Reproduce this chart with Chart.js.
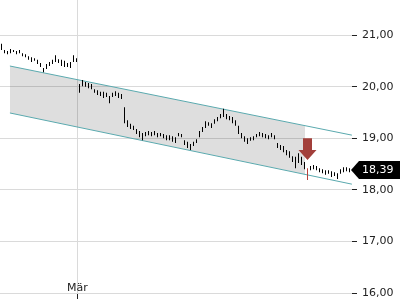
<!DOCTYPE html>
<html lang="de">
<head>
<meta charset="UTF-8" />
<title>Kursverlauf</title>
<style>
  html, body { margin: 0; padding: 0; background: #fff; }
  canvas { display: block; }
</style>
</head>
<body>
<canvas id="chart" width="400" height="300"></canvas>
<script src="https://cdn.jsdelivr.net/npm/chart.js"></script>
<script>
// daily high / low, one entry per trading day
const highs = [
  20.83, 20.71, 20.69, 20.73, 20.71, 20.69, 20.71, 20.65, 20.63, 20.59,
  20.57, 20.55, 20.52, 20.46, 20.36, 20.44, 20.48, 20.52, 20.61, 20.53,
  20.52, 20.50, 20.46, 20.48, 20.61, 20.55, 20.05, 20.13, 20.09, 20.07,
  20.05, 19.95, 19.93, 19.90, 19.90, 19.88, 19.82, 19.88, 19.91, 19.88,
  19.86, 19.60, 19.35, 19.28, 19.24, 19.18, 19.14, 19.10, 19.12, 19.14,
  19.12, 19.14, 19.10, 19.10, 19.08, 19.06, 19.06, 19.04, 19.02, 19.10,
  19.08, 18.96, 18.93, 18.89, 18.93, 18.98, 19.14, 19.22, 19.33, 19.31,
  19.29, 19.37, 19.41, 19.47, 19.57, 19.47, 19.43, 19.41, 19.35, 19.24,
  19.10, 19.04, 19.00, 19.02, 19.04, 19.08, 19.12, 19.10, 19.08, 19.06,
  19.10, 19.06, 18.91, 18.87, 18.85, 18.77, 18.75, 18.65, 18.64, 18.71,
  18.64, 18.54, 18.42, 18.46, 18.48, 18.46, 18.42, 18.40, 18.38, 18.38,
  18.36, 18.34, 18.32, 18.40, 18.44, 18.44, 18.42
];
const lows = [
  20.71, 20.65, 20.63, 20.65, 20.67, 20.63, 20.65, 20.59, 20.57, 20.52,
  20.48, 20.50, 20.44, 20.38, 20.28, 20.34, 20.40, 20.44, 20.48, 20.46,
  20.40, 20.38, 20.38, 20.36, 20.48, 20.48, 19.88, 20.01, 20.00, 19.97,
  19.95, 19.88, 19.84, 19.82, 19.78, 19.80, 19.68, 19.80, 19.82, 19.78,
  19.76, 19.29, 19.22, 19.18, 19.16, 19.08, 19.02, 18.96, 19.04, 19.06,
  19.04, 19.06, 19.02, 19.04, 19.00, 18.96, 18.96, 18.93, 18.91, 19.04,
  19.02, 18.87, 18.81, 18.77, 18.85, 18.91, 19.02, 19.12, 19.20, 19.24,
  19.20, 19.28, 19.33, 19.39, 19.41, 19.37, 19.35, 19.29, 19.24, 19.08,
  19.00, 18.93, 18.89, 18.95, 18.96, 19.02, 19.04, 19.02, 19.00, 18.98,
  19.02, 18.98, 18.81, 18.77, 18.73, 18.67, 18.62, 18.54, 18.42, 18.52,
  18.48, 18.40, 18.19, 18.38, 18.40, 18.38, 18.34, 18.32, 18.29, 18.31,
  18.25, 18.27, 18.21, 18.31, 18.34, 18.36, 18.34
];
const lastClose = 18.39;

const monthLabel = 'Mär';
const monthIndex = 25;

// trend channel (line ends) and shaded part of it
const channelX = [2.8, 116.8];
const channelUpper = [20.40, 19.06];
const channelLower = [19.49, 18.11];
const shadeX = [2.8, 101.2];
const shadeUpper = [20.40, 19.24];
const shadeLower = [19.49, 18.30];

// sell signal arrow
const signalIndex = 102;
const signalTop = 19.00;
const signalHead = 18.77;
const signalTip = 18.58;

const yTicks = [16, 17, 18, 19, 20, 21];
const yMin = 16, yMax = 21.68;
const xMin = -0.5, xMax = 116.8333;

const FONT = '"DejaVu Sans", sans-serif';
const gridColor = '#dadada';
const channelColor = '#5aa9ae';
const signalColor = '#a23f3a';

const fmt = v => v.toFixed(2).replace('.', ',');

const bars = highs.map((h, i) => ({ x: i, y: [lows[i], h] }));
const barColors = highs.map((h, i) => i === signalIndex ? '#b8403a' : '#000');

const pairs = (xs, ys) => xs.map((x, i) => ({ x: x, y: ys[i] }));

const overlay = {
  id: 'overlay',
  beforeDatasetsDraw(chart) {
    // month separator: grid line, tick and label
    const ctx = chart.ctx;
    const area = chart.chartArea;
    const x = Math.round(chart.scales.x.getPixelForValue(monthIndex)) + 0.5;
    ctx.save();
    ctx.lineWidth = 1;
    ctx.strokeStyle = gridColor;
    ctx.beginPath();
    ctx.moveTo(x, area.top);
    ctx.lineTo(x, area.bottom);
    ctx.stroke();
    ctx.strokeStyle = '#222';
    ctx.beginPath();
    ctx.moveTo(x, area.bottom + 1);
    ctx.lineTo(x, area.bottom + 6);
    ctx.stroke();
    ctx.fillStyle = '#222';
    ctx.font = '11px ' + FONT;
    ctx.textAlign = 'center';
    ctx.textBaseline = 'alphabetic';
    ctx.fillText(monthLabel, x, area.bottom - 2);
    ctx.restore();
  },
  afterDatasetsDraw(chart) {
    const ctx = chart.ctx;
    const xs = chart.scales.x, ys = chart.scales.y;
    const cx = xs.getPixelForValue(signalIndex);
    const yTop = ys.getPixelForValue(signalTop);
    const yHead = ys.getPixelForValue(signalHead);
    const yTip = ys.getPixelForValue(signalTip);
    ctx.save();
    ctx.fillStyle = signalColor;
    ctx.beginPath();
    ctx.moveTo(cx - 4.5, yTop);
    ctx.lineTo(cx + 4.5, yTop);
    ctx.lineTo(cx + 4.5, yHead);
    ctx.lineTo(cx + 9, yHead);
    ctx.lineTo(cx, yTip);
    ctx.lineTo(cx - 9, yHead);
    ctx.lineTo(cx - 4.5, yHead);
    ctx.closePath();
    ctx.fill();
    ctx.restore();
  },
  afterDraw(chart) {
    // last price marker on the axis
    const ctx = chart.ctx;
    const ys = chart.scales.y;
    const right = chart.chartArea.right;
    const y = Math.round(ys.getPixelForValue(lastClose));
    ctx.save();
    ctx.fillStyle = '#000';
    ctx.beginPath();
    ctx.moveTo(right - 1, y);
    ctx.lineTo(right + 7, y - 9);
    ctx.lineTo(chart.width, y - 9);
    ctx.lineTo(chart.width, y + 9);
    ctx.lineTo(right + 7, y + 9);
    ctx.closePath();
    ctx.fill();
    ctx.fillStyle = '#fff';
    ctx.font = '11px ' + FONT;
    ctx.textBaseline = 'middle';
    ctx.textAlign = 'left';
    ctx.fillText(fmt(lastClose), right + 10, y + 0.5);
    ctx.restore();
  }
};

new Chart(document.getElementById('chart'), {
  type: 'bar',
  data: {
    datasets: [
      {
        type: 'bar',
        data: bars,
        backgroundColor: barColors,
        barThickness: 1,
        inflateAmount: 0,
        borderWidth: 0,
        grouped: false,
        order: 0
      },
      {
        type: 'line',
        data: pairs(channelX, channelUpper),
        borderColor: channelColor,
        borderWidth: 1,
        pointRadius: 0,
        fill: false,
        order: 1
      },
      {
        type: 'line',
        data: pairs(channelX, channelLower),
        borderColor: channelColor,
        borderWidth: 1,
        pointRadius: 0,
        fill: false,
        order: 1
      },
      {
        type: 'line',
        data: pairs(shadeX, shadeUpper),
        borderWidth: 0,
        pointRadius: 0,
        backgroundColor: 'rgba(0,0,0,0.13)',
        fill: '+1',
        order: 2
      },
      {
        type: 'line',
        data: pairs(shadeX, shadeLower),
        borderWidth: 0,
        pointRadius: 0,
        fill: false,
        order: 2
      }
    ]
  },
  options: {
    responsive: false,
    animation: false,
    layout: { padding: 0 },
    plugins: { legend: { display: false }, tooltip: { enabled: false } },
    scales: {
      x: {
        type: 'linear',
        min: xMin,
        max: xMax,
        offset: false,
        border: { display: false },
        grid: { display: false, offset: false },
        ticks: { display: false },
        afterFit: s => {
          s.height = 7;
          s.paddingLeft = 0; s.paddingRight = 0;
        }
      },
      y: {
        position: 'right',
        min: yMin,
        max: yMax,
        border: { display: false },
        grid: { color: gridColor, tickColor: '#222', tickLength: 5 },
        ticks: {
          font: { family: FONT, size: 11 },
          color: '#222',
          padding: 5,
          callback: v => fmt(v)
        },
        afterBuildTicks: s => { s.ticks = yTicks.map(v => ({ value: v })); },
        afterFit: s => {
          s.width = 48;
          s.paddingTop = 0; s.paddingBottom = 0;
        }
      }
    }
  },
  plugins: [overlay]
});
</script>
</body>
</html>
